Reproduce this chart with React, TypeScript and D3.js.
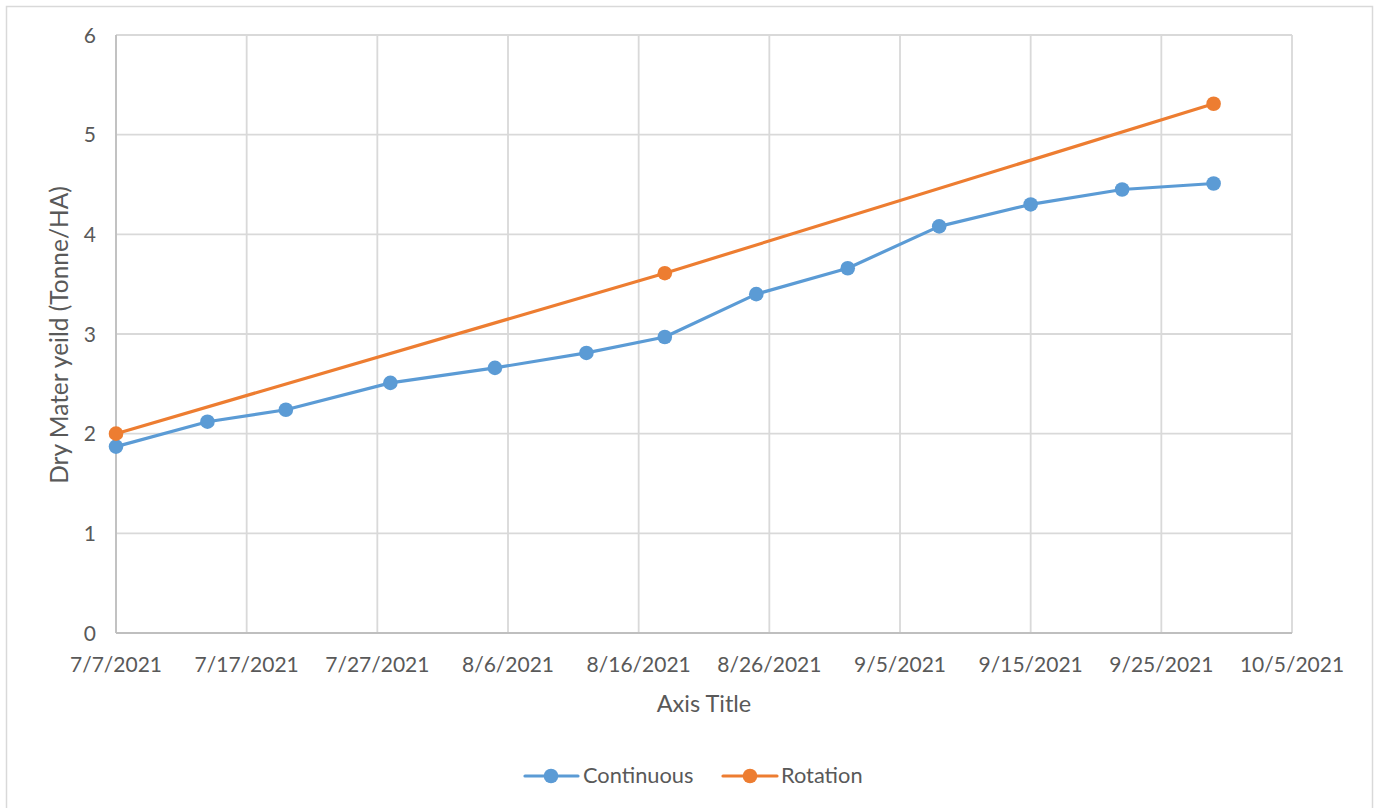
import React from "react";
import * as d3 from "d3";

const continuousDates = ["2021-07-07","2021-07-14","2021-07-20","2021-07-28","2021-08-05","2021-08-12","2021-08-18","2021-08-25","2021-09-01","2021-09-08","2021-09-15","2021-09-22","2021-09-29"];
const continuousValues = [1.87, 2.12, 2.24, 2.51, 2.66, 2.81, 2.97, 3.40, 3.66, 4.08, 4.30, 4.45, 4.51];
const rotationDates = ["2021-07-07","2021-08-18","2021-09-29"];
const rotationValues = [2.0, 3.61, 5.31];
const xTickDates = ["2021-07-07","2021-07-17","2021-07-27","2021-08-06","2021-08-16","2021-08-26","2021-09-05","2021-09-15","2021-09-25","2021-10-05"];
const yTicks = [0, 1, 2, 3, 4, 5, 6];
const seriesNames = ["Continuous", "Rotation"];
const seriesColors = ["#5B9BD5", "#ED7D31"];

const W = 1379, H = 808;
const FONT = "Lato, 'Open Sans', sans-serif";
const TEXT = "#595959";

export default function App() {
  const parse = d3.utcParse("%Y-%m-%d");
  const fmt = (d: Date) => `${d.getUTCMonth() + 1}/${d.getUTCDate()}/${d.getUTCFullYear()}`;
  const x = d3.scaleUtc().domain([parse(xTickDates[0])!, parse(xTickDates[xTickDates.length - 1])!]).range([116, 1292]);
  const y = d3.scaleLinear().domain([0, 6]).range([633, 35]);

  const series = [
    continuousDates.map((d, i) => ({ x: parse(d)!, y: continuousValues[i] })),
    rotationDates.map((d, i) => ({ x: parse(d)!, y: rotationValues[i] })),
  ];
  const line = d3.line<{ x: Date; y: number }>().x(d => x(d.x)).y(d => y(d.y));
  const xt = xTickDates.map(d => parse(d)!);

  const legendItems = [
    { lx1: 525, lx2: 578, cx: 551, tx: 583 },
    { lx1: 723, lx2: 777, cx: 750, tx: 781 },
  ];

  return (
    <svg width={W} height={H} style={{ position: "absolute", left: 0, top: 0, background: "#fff" }} fontFamily={FONT}>
      <rect x={6.5} y={6.5} width={1366} height={820} fill="#fff" stroke="#D9D9D9" strokeWidth={1.5} />
      {yTicks.map(t => (
        <line key={"gy" + t} x1={116} x2={1292} y1={y(t)} y2={y(t)} stroke="#D9D9D9" strokeWidth={1.8} />
      ))}
      {xt.map((t, i) => (
        <line key={"gx" + i} x1={x(t)} x2={x(t)} y1={35} y2={633} stroke="#D9D9D9" strokeWidth={1.8} />
      ))}
      <line x1={116} x2={116} y1={35} y2={633} stroke="#BFBFBF" strokeWidth={1.8} />
      <line x1={116} x2={1292} y1={633} y2={633} stroke="#BFBFBF" strokeWidth={1.8} />
      {yTicks.map(t => (
        <text key={"ly" + t} x={96} y={y(t) + 7.5} textAnchor="end" fontSize={21} fill={TEXT}>{t}</text>
      ))}
      {xt.map((t, i) => (
        <text key={"lx" + i} x={x(t)} y={672} textAnchor="middle" fontSize={21} fill={TEXT}>{fmt(t)}</text>
      ))}
      <text x={704} y={712} textAnchor="middle" fontSize={23.5} fill={TEXT}>Axis Title</text>
      <text transform="translate(68,335) rotate(-90)" textAnchor="middle" fontSize={24.5} fill={TEXT}>Dry Mater yeild (Tonne/HA)</text>
      {series.map((s, si) => (
        <g key={"s" + si}>
          <path d={line(s)!} fill="none" stroke={seriesColors[si]} strokeWidth={3.2} strokeLinejoin="round" strokeLinecap="round" />
          {s.map((p, pi) => (
            <circle key={pi} cx={x(p.x)} cy={y(p.y)} r={7.3} fill={seriesColors[si]} />
          ))}
        </g>
      ))}
      {legendItems.map((l, i) => (
        <g key={"lg" + i}>
          <line x1={l.lx1} x2={l.lx2} y1={776} y2={776} stroke={seriesColors[i]} strokeWidth={3.2} strokeLinecap="round" />
          <circle cx={l.cx} cy={776} r={7.3} fill={seriesColors[i]} />
          <text x={l.tx} y={782.5} fontSize={21.8} fill={TEXT}>{seriesNames[i]}</text>
        </g>
      ))}
    </svg>
  );
}
